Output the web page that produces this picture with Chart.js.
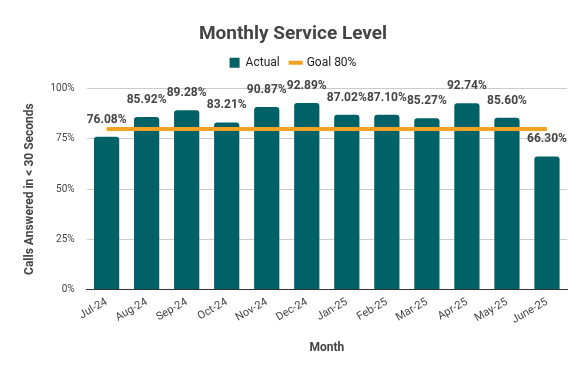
<!DOCTYPE html>
<html>
<head>
<meta charset="utf-8">
<script src="https://cdn.jsdelivr.net/npm/chart.js@4"></script>
<style>
    html, body { margin: 0; padding: 0; background: #fff; }
    #wrap { width: 583px; height: 371px; position: relative; }
</style>
</head>
<body>
<div id="wrap"><canvas id="grafico"></canvas></div>
<script>
const meses = ['Jul-24', 'Aug-24', 'Sep-24', 'Oct-24', 'Nov-24', 'Dec-24',
    'Jan-25', 'Feb-25', 'Mar-25', 'Apr-25', 'May-25', 'June-25'];
const actual = [76.08, 85.92, 89.28, 83.21, 90.87, 92.89, 87.02, 87.10, 85.27, 92.74, 85.60, 66.30];
const goal = [80, 80, 80, 80, 80, 80, 80, 80, 80, 80, 80, 80];
const yTicks = [0, 25, 50, 75, 100];

// labels above the bars, drawn by hand (no datalabels plugin)
const rotulos = {
    id: 'rotulos',
    afterDatasetsDraw(chart) {
        const ctx = chart.ctx;
        const meta = chart.getDatasetMeta(1);
        ctx.save();
        ctx.font = 'bold 12px Roboto, Arial, sans-serif';
        ctx.fillStyle = '#444';
        ctx.textAlign = 'center';
        ctx.textBaseline = 'bottom';
        meta.data.forEach((bar, i) => {
            ctx.fillText(actual[i].toFixed(2) + '%', bar.x, bar.y - 11);
        });
        ctx.restore();
    }
};

// extra space between legend and plot
const espacoLegenda = {
    id: 'espacoLegenda',
    beforeInit(chart) {
        const fitOriginal = chart.legend.fit;
        chart.legend.fit = function () {
            fitOriginal.bind(chart.legend)();
            this.height += 10;
        };
    }
};

new Chart(document.getElementById('grafico'), {
    data: {
        labels: meses,
        datasets: [
            {
                type: 'line',
                label: 'Goal 80%',
                data: goal,
                borderColor: '#f4a224',
                backgroundColor: '#f4a224',
                borderWidth: 4,
                pointRadius: 0,
                order: 0
            },
            {
                type: 'bar',
                label: 'Actual',
                data: actual,
                backgroundColor: '#006266',
                borderRadius: { topLeft: 3, topRight: 3 },
                borderSkipped: 'bottom',
                categoryPercentage: 1,
                barPercentage: 0.63,
                order: 1
            }
        ]
    },
    options: {
        responsive: true,
        maintainAspectRatio: false,
        animation: false,
        layout: { padding: { left: 19, right: 16, top: 10, bottom: 12 } },
        plugins: {
            title: {
                display: true,
                text: 'Monthly Service Level',
                color: '#444',
                font: { family: 'Roboto, Arial, sans-serif', size: 19, weight: 'bold' },
                padding: { top: 13, bottom: 0 }
            },
            legend: {
                display: true,
                labels: {
                    usePointStyle: true,
                    color: '#222',
                    font: { family: 'Roboto, Arial, sans-serif', size: 12 },
                    boxWidth: 10,
                    boxHeight: 10,
                    padding: 11,
                    generateLabels(chart) {
                        return [
                            { text: 'Actual', fillStyle: '#006266', strokeStyle: '#006266', lineWidth: 0, pointStyle: 'rect', datasetIndex: 1, fontColor: '#222' },
                            { text: 'Goal 80%', fillStyle: '#f4a224', strokeStyle: '#f4a224', lineWidth: 4, pointStyle: 'line', datasetIndex: 0, fontColor: '#222' }
                        ];
                    }
                }
            },
            tooltip: { enabled: false }
        },
        scales: {
            x: {
                grid: { display: false, drawTicks: false },
                border: { color: '#333', width: 1 },
                ticks: {
                    color: '#444',
                    font: { family: 'Roboto, Arial, sans-serif', size: 11 },
                    maxRotation: 30,
                    minRotation: 30,
                    padding: 6
                },
                title: {
                    display: true,
                    text: 'Month',
                    color: '#444',
                    font: { family: 'Roboto, Arial, sans-serif', size: 12, weight: 'bold' },
                    padding: { top: 8 }
                }
            },
            y: {
                min: 0,
                max: 100,
                afterBuildTicks: axis => { axis.ticks = yTicks.map(v => ({ value: v })); },
                grid: { color: '#ccc', drawTicks: false },
                border: { display: false },
                ticks: {
                    color: '#444',
                    font: { family: 'Roboto, Arial, sans-serif', size: 10 },
                    padding: 12,
                    callback: v => v + '%'
                },
                title: {
                    display: true,
                    text: 'Calls Answered in < 30 Seconds',
                    color: '#444',
                    font: { family: 'Roboto, Arial, sans-serif', size: 12, weight: 'bold' },
                    padding: { bottom: 1 }
                }
            }
        }
    },
    plugins: [rotulos, espacoLegenda]
});
</script>
</body>
</html>
